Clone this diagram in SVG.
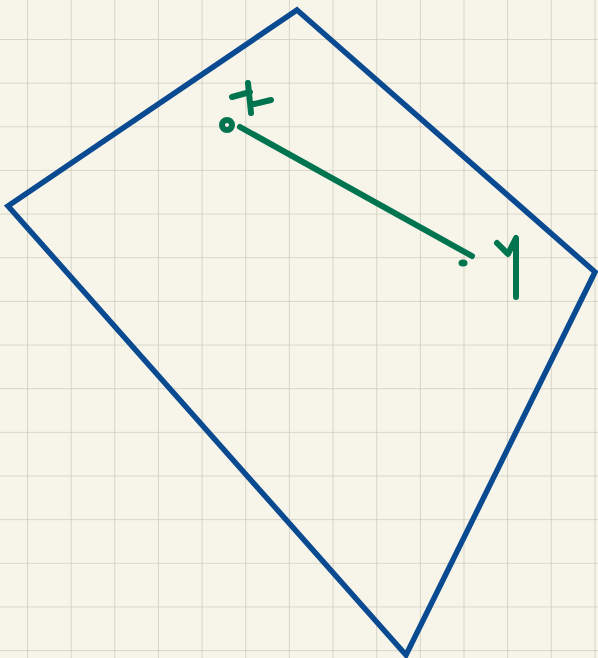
<svg xmlns="http://www.w3.org/2000/svg" width="598" height="658" viewBox="0 0 598 658">
<defs>
<pattern id="grid" x="27" y="39" width="43.65" height="43.65" patternUnits="userSpaceOnUse">
<path d="M0,0 H43.65 M0,0 V43.65" fill="none" stroke="#cfccbe" stroke-width="1.6"/>
</pattern>
<style>
.shape{fill:none;stroke:#0a4a91;stroke-width:5.5;stroke-linejoin:miter;stroke-linecap:round}
.ink{fill:none;stroke:#00744f;stroke-width:6;stroke-linecap:round;stroke-linejoin:round}
</style>
</defs>
<rect width="598" height="658" fill="#f7f5ea"/>
<rect width="598" height="658" fill="url(#grid)"/>
<polygon class="shape" points="297,10 595,272 406,655 8,206"/>
<circle class="ink" cx="227" cy="125" r="5" stroke-width="5"/>
<path class="ink" d="M240,127 L472,256"/>
<ellipse cx="463" cy="263" rx="4.5" ry="3.5" fill="#00744f"/>
<path class="ink" d="M232,97 L250,92 M248,83 L251,113 M254,104 L271,100"/>
<path class="ink" d="M497,243 L508,254 L516,238 L516,297"/>
</svg>
